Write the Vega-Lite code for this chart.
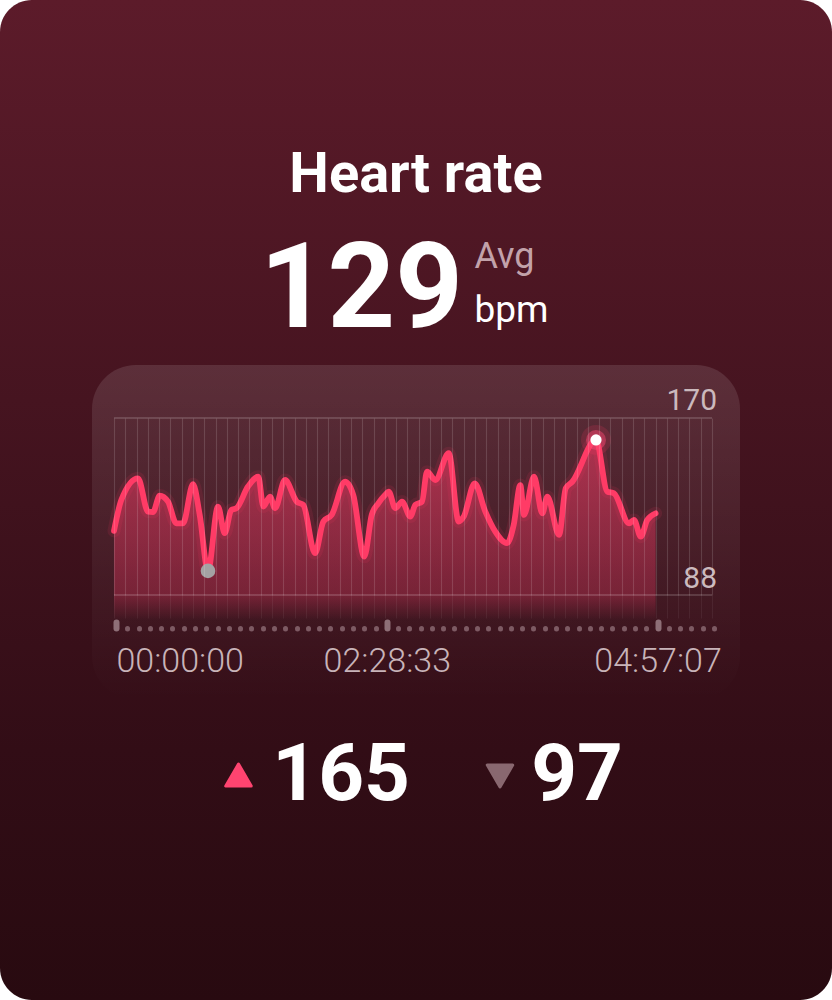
{
  "$schema": "https://vega.github.io/schema/vega-lite/v6.json",
  "width": 832,
  "height": 1000,
  "padding": 0,
  "autosize": {"type": "none"},
  "background": "#ffffff",
  "config": {"view": {"stroke": null}, "axis": {"title": null}},
  "resolve": {"axis": {"x": "independent", "y": "independent"}},
  "datasets": {
    "hr": [
      {"t": 0, "bpm": 117.8}, {"t": 240, "bpm": 133.8}, {"t": 790, "bpm": 145.1}, {"t": 1119, "bpm": 127.8},
      {"t": 1284, "bpm": 127.6}, {"t": 1504, "bpm": 136.1}, {"t": 1778, "bpm": 133.0}, {"t": 2051, "bpm": 121.7},
      {"t": 2271, "bpm": 121.7}, {"t": 2601, "bpm": 142.0}, {"t": 2821, "bpm": 126.1}, {"t": 3094, "bpm": 97},
      {"t": 3423, "bpm": 130.4}, {"t": 3644, "bpm": 116.6}, {"t": 3861, "bpm": 128.7}, {"t": 4026, "bpm": 129.5},
      {"t": 4411, "bpm": 140.8}, {"t": 4750, "bpm": 145.9}, {"t": 4915, "bpm": 130.4}, {"t": 5135, "bpm": 135.6},
      {"t": 5300, "bpm": 129.5}, {"t": 5629, "bpm": 144.2}, {"t": 6014, "bpm": 133.0}, {"t": 6231, "bpm": 131.3},
      {"t": 6617, "bpm": 106.2}, {"t": 6890, "bpm": 122.6}, {"t": 7166, "bpm": 126.1}, {"t": 7604, "bpm": 143.3},
      {"t": 7877, "bpm": 136.4}, {"t": 8239, "bpm": 104.4}, {"t": 8483, "bpm": 126.1}, {"t": 8700, "bpm": 132.1},
      {"t": 8921, "bpm": 136.4}, {"t": 9043, "bpm": 138.2}, {"t": 9260, "bpm": 129.5}, {"t": 9480, "bpm": 133.0},
      {"t": 9754, "bpm": 125.2}, {"t": 9918, "bpm": 131.3}, {"t": 10139, "bpm": 133.0}, {"t": 10303, "bpm": 148.5},
      {"t": 10577, "bpm": 144.2}, {"t": 11018, "bpm": 158.1}, {"t": 11347, "bpm": 122.6}, {"t": 11512, "bpm": 125.2},
      {"t": 11873, "bpm": 142.5}, {"t": 12223, "bpm": 127.8}, {"t": 12552, "bpm": 117.4}, {"t": 12937, "bpm": 111.4},
      {"t": 13157, "bpm": 120.9}, {"t": 13375, "bpm": 141.6}, {"t": 13497, "bpm": 126.1}, {"t": 13826, "bpm": 145.9},
      {"t": 14099, "bpm": 126.9}, {"t": 14264, "bpm": 135.6}, {"t": 14649, "bpm": 115.7}, {"t": 14869, "bpm": 139.9},
      {"t": 15086, "bpm": 143.3}, {"t": 15866, "bpm": 165}, {"t": 16238, "bpm": 138.2}, {"t": 16459, "bpm": 137.3},
      {"t": 16953, "bpm": 121.7}, {"t": 17117, "bpm": 123.5}, {"t": 17338, "bpm": 114.8}, {"t": 17555, "bpm": 123.5},
      {"t": 17827, "bpm": 126.9}
    ]
  },
  "data": {"name": "hr"},
  "layer": [
    {
      "data": {"values": [{}]},
      "mark": {"type": "rect", "cornerRadius": 32,
        "fill": {"gradient": "linear", "x1": 0, "y1": 0, "x2": 0, "y2": 1,
          "stops": [{"offset": 0, "color": "#5c1b2a"}, {"offset": 0.4, "color": "#461420"}, {"offset": 0.75, "color": "#320d16"}, {"offset": 1, "color": "#280a10"}]}},
      "encoding": {
        "x": {"datum": -3752.5, "type": "quantitative", "axis": null, "scale": {"domain": [0, 19684.2], "range": [114, 712], "nice": false, "zero": false}},
        "x2": {"datum": 23634.2},
        "y": {"datum": 393.43, "type": "quantitative", "axis": null, "scale": {"domain": [84.5, 176.4], "range": [595, 418], "nice": false, "zero": false}},
        "y2": {"datum": -125.78}
      }
    },
    {
      "data": {"values": [{}]},
      "mark": {"type": "rect", "cornerRadius": 44,
        "fill": {"gradient": "linear", "x1": 0, "y1": 0, "x2": 0, "y2": 1,
          "stops": [{"offset": 0, "color": "rgba(255,255,255,0.115)"}, {"offset": 0.55, "color": "rgba(255,255,255,0.055)"}, {"offset": 1, "color": "rgba(255,255,255,0)"}]}},
      "encoding": {
        "x": {"datum": -724.2, "type": "quantitative", "axis": null},
        "x2": {"datum": 20605.9},
        "y": {"datum": 203.92, "type": "quantitative", "axis": null},
        "y2": {"datum": 29.98}
      }
    },
    {
      "mark": {"type": "area", "interpolate": "monotone",
        "fill": {"gradient": "linear", "x1": 0, "y1": 0, "x2": 0, "y2": 1,
          "stops": [{"offset": 0, "color": "rgba(255,60,105,0.52)"}, {"offset": 0.5, "color": "rgba(255,60,105,0.38)"}, {"offset": 0.86, "color": "rgba(255,60,105,0.28)"}, {"offset": 1, "color": "rgba(255,60,105,0)"}]}},
      "encoding": {
        "x": {"field": "t", "type": "quantitative",
          "axis": {"orient": "bottom", "offset": -582, "zindex": 1, "domain": false, "labels": false, "grid": false, "title": null,
            "ticks": true, "tickSize": 177, "tickWidth": 1.2, "tickColor": "#ffffff", "tickOpacity": 0.09,
            "values": [0, 371.4, 742.8, 1114.2, 1485.6, 1857, 2228.4, 2599.8, 2971.2, 3342.6, 3714, 4085.4, 4456.8, 4828.2, 5199.6, 5571, 5942.4, 6313.8, 6685.2, 7056.6, 7428, 7799.4, 8170.8, 8542.2, 8913.6, 9285, 9656.4, 10027.8, 10399.2, 10770.6, 11142, 11513.4, 11884.8, 12256.2, 12627.6, 12999, 13370.4, 13741.8, 14113.2, 14484.6, 14856, 15227.4, 15598.8, 15970.2, 16341.6, 16713, 17084.4, 17455.8, 17827.2, 18198.6, 18570, 18941.4, 19312.8, 19684.2]}},
        "y": {"field": "bpm", "type": "quantitative", "axis": null},
        "y2": {"datum": 71.5}
      }
    },
    {
      "mark": {"type": "line", "interpolate": "monotone", "color": "#ff3b66", "strokeWidth": 13, "opacity": 0.11, "strokeCap": "round", "strokeJoin": "round"},
      "encoding": {
        "x": {"field": "t", "type": "quantitative",
          "axis": {"orient": "bottom", "offset": -582, "zindex": 1, "domain": false, "labels": false, "grid": false, "title": null,
            "ticks": true, "tickSize": 200, "tickWidth": 1.2, "tickColor": "#ffffff", "tickOpacity": 0.06,
            "values": [0, 371.4, 742.8, 1114.2, 1485.6, 1857, 2228.4, 2599.8, 2971.2, 3342.6, 3714, 4085.4, 4456.8, 4828.2, 5199.6, 5571, 5942.4, 6313.8, 6685.2, 7056.6, 7428, 7799.4, 8170.8, 8542.2, 8913.6, 9285, 9656.4, 10027.8, 10399.2, 10770.6, 11142, 11513.4, 11884.8, 12256.2, 12627.6, 12999, 13370.4, 13741.8, 14113.2, 14484.6, 14856, 15227.4, 15598.8, 15970.2, 16341.6, 16713, 17084.4, 17455.8, 17827.2, 18198.6, 18570, 18941.4, 19312.8, 19684.2]}},
        "y": {"field": "bpm", "type": "quantitative", "axis": null}
      }
    },
    {
      "mark": {"type": "line", "interpolate": "monotone", "color": "#ff3b66", "strokeWidth": 5.8, "strokeCap": "round", "strokeJoin": "round"},
      "encoding": {
        "x": {"field": "t", "type": "quantitative",
          "axis": {"orient": "bottom", "offset": -372, "zindex": 1, "domain": false, "labels": false, "grid": false, "title": null,
            "ticks": true, "tickSize": 0.5, "tickWidth": 5, "tickCap": "round", "tickColor": "#7d5a63", "tickOffset": 2,
            "values": [371.4, 742.8, 1114.2, 1485.6, 1857, 2228.4, 2599.8, 2971.2, 3342.6, 3714, 4085.4, 4456.8, 4828.2, 5199.6, 5571, 5942.4, 6313.8, 6685.2, 7056.6, 7428, 7799.4, 8170.8, 8542.2, 9285, 9656.4, 10027.8, 10399.2, 10770.6, 11142, 11513.4, 11884.8, 12256.2, 12627.6, 12999, 13370.4, 13741.8, 14113.2, 14484.6, 14856, 15227.4, 15598.8, 15970.2, 16341.6, 16713, 17084.4, 17455.8, 18198.6, 18570, 18941.4, 19312.8, 19684.2]}},
        "y": {"field": "bpm", "type": "quantitative", "axis": null}
      }
    },
    {
      "transform": [{"filter": "datum.bpm == 165"}],
      "mark": {"type": "point", "filled": true, "shape": "circle", "color": "#ff3b66", "size": 900, "opacity": 0.16},
      "encoding": {
        "x": {"field": "t", "type": "quantitative",
          "axis": {"orient": "bottom", "offset": -378, "zindex": 1, "domain": false, "grid": false, "title": null,
            "ticks": true, "tickSize": 6, "tickWidth": 6, "tickCap": "round", "tickColor": "#8e6f77", "tickOffset": 2,
            "values": [0, 8913.6, 17827.2],
            "labels": true, "labelExpr": "utcFormat(datum.value * 1000, '%H:%M:%S')",
            "labelFont": "Roboto", "labelFontSize": 34, "labelFontWeight": 300, "labelColor": "#c8b4b9",
            "labelBaseline": "alphabetic", "labelPadding": 43.5, "labelBound": false, "labelFlush": false, "labelOverlap": false,
            "labelAlign": {"condition": {"test": "datum.value == 0", "value": "left"}, "value": "center"}}},
        "y": {"field": "bpm", "type": "quantitative", "axis": null}
      }
    },
    {
      "transform": [{"filter": "datum.bpm == 165"}],
      "mark": {"type": "point", "filled": true, "shape": "circle", "color": "#ff4a75", "size": 400, "opacity": 0.45},
      "encoding": {
        "x": {"field": "t", "type": "quantitative", "axis": null},
        "y": {"field": "bpm", "type": "quantitative", "axis": null}
      }
    },
    {
      "transform": [{"filter": "datum.bpm == 165"}],
      "mark": {"type": "point", "filled": true, "shape": "circle", "color": "#ffffff", "size": 125, "opacity": 1},
      "encoding": {
        "x": {"field": "t", "type": "quantitative", "axis": null},
        "y": {"field": "bpm", "type": "quantitative", "axis": null}
      }
    },
    {
      "transform": [{"filter": "datum.bpm == 97"}],
      "mark": {"type": "point", "filled": true, "shape": "circle", "color": "#a4a2a3", "size": 215, "opacity": 1},
      "encoding": {
        "x": {"field": "t", "type": "quantitative", "axis": null},
        "y": {"field": "bpm", "type": "quantitative", "axis": null}
      }
    },
    {
      "data": {"values": [{}]},
      "mark": {"type": "rule", "color": "#ffffff", "opacity": 0.2, "strokeWidth": 1.5},
      "encoding": {
        "x": {"datum": 0, "type": "quantitative", "axis": null},
        "x2": {"datum": 19684.2},
        "y": {"datum": 176.4, "type": "quantitative", "axis": null}
      }
    },
    {
      "data": {"values": [{}]},
      "mark": {"type": "rule", "color": "#ffffff", "opacity": 0.2, "strokeWidth": 1.5},
      "encoding": {
        "x": {"datum": 0, "type": "quantitative", "axis": null},
        "x2": {"datum": 19684.2},
        "y": {"datum": 84.5, "type": "quantitative", "axis": null}
      }
    },
    {
      "data": {"values": [{}]},
      "mark": {"type": "text", "text": "170", "font": "Roboto", "fontSize": 30, "color": "#cbb9bd", "align": "right", "baseline": "alphabetic", "dx": 5, "dy": -8},
      "encoding": {
        "x": {"datum": 19684.2, "type": "quantitative", "axis": null},
        "y": {"datum": 176.4, "type": "quantitative", "axis": null}
      }
    },
    {
      "data": {"values": [{}]},
      "mark": {"type": "text", "text": "88", "font": "Roboto", "fontSize": 30, "color": "#cbb9bd", "align": "right", "baseline": "alphabetic", "dx": 5, "dy": -7},
      "encoding": {
        "x": {"datum": 19684.2, "type": "quantitative", "axis": null},
        "y": {"datum": 84.5, "type": "quantitative", "axis": null}
      }
    },
    {
      "data": {"values": [{}]},
      "mark": {"type": "text", "text": "Heart rate", "font": "Roboto", "fontSize": 56, "fontWeight": "bold", "color": "#ffffff", "align": "center", "baseline": "alphabetic"},
      "encoding": {
        "x": {"datum": 9940.8, "type": "quantitative", "axis": null},
        "y": {"datum": 293.9, "type": "quantitative", "axis": null}
      }
    },
    {
      "data": {"values": [{}]},
      "mark": {"type": "text", "text": "129", "font": "Roboto", "fontSize": 118, "fontWeight": "bold", "color": "#ffffff", "align": "right", "baseline": "alphabetic"},
      "encoding": {
        "x": {"datum": 11487.9, "type": "quantitative", "axis": null},
        "y": {"datum": 223.8, "type": "quantitative", "axis": null}
      }
    },
    {
      "data": {"values": [{}]},
      "mark": {"type": "text", "text": "Avg", "font": "Roboto", "fontSize": 36, "color": "#c2a2aa", "align": "left", "baseline": "alphabetic"},
      "encoding": {
        "x": {"datum": 11866.5, "type": "quantitative", "axis": null},
        "y": {"datum": 254.3, "type": "quantitative", "axis": null}
      }
    },
    {
      "data": {"values": [{}]},
      "mark": {"type": "text", "text": "bpm", "font": "Roboto", "fontSize": 37, "color": "#ffffff", "align": "left", "baseline": "alphabetic"},
      "encoding": {
        "x": {"datum": 11866.5, "type": "quantitative", "axis": null},
        "y": {"datum": 226.4, "type": "quantitative", "axis": null}
      }
    },
    {
      "data": {"values": [{}]},
      "mark": {"type": "point", "shape": "triangle-up", "filled": true, "size": 650, "color": "#ff4470", "stroke": "#ff4470", "strokeWidth": 3, "strokeJoin": "round", "opacity": 1},
      "encoding": {
        "x": {"datum": 4098.1, "type": "quantitative", "axis": null},
        "y": {"datum": -8.96, "type": "quantitative", "axis": null}
      }
    },
    {
      "data": {"values": [{}]},
      "mark": {"type": "point", "shape": "triangle-down", "filled": true, "size": 650, "color": "#896870", "stroke": "#896870", "strokeWidth": 3, "strokeJoin": "round", "opacity": 1},
      "encoding": {
        "x": {"datum": 12705.8, "type": "quantitative", "axis": null},
        "y": {"datum": -9.48, "type": "quantitative", "axis": null}
      }
    },
    {
      "data": {"values": [{}]},
      "mark": {"type": "text", "text": "165", "font": "Roboto", "fontSize": 80, "fontWeight": "bold", "color": "#ffffff", "align": "right", "baseline": "alphabetic"},
      "encoding": {
        "x": {"datum": 9743.3, "type": "quantitative", "axis": null},
        "y": {"datum": -21.9, "type": "quantitative", "axis": null}
      }
    },
    {
      "data": {"values": [{}]},
      "mark": {"type": "text", "text": "97", "font": "Roboto", "fontSize": 80, "fontWeight": "bold", "color": "#ffffff", "align": "right", "baseline": "alphabetic"},
      "encoding": {
        "x": {"datum": 16754.6, "type": "quantitative", "axis": null},
        "y": {"datum": -21.9, "type": "quantitative", "axis": null}
      }
    }
  ]
}
